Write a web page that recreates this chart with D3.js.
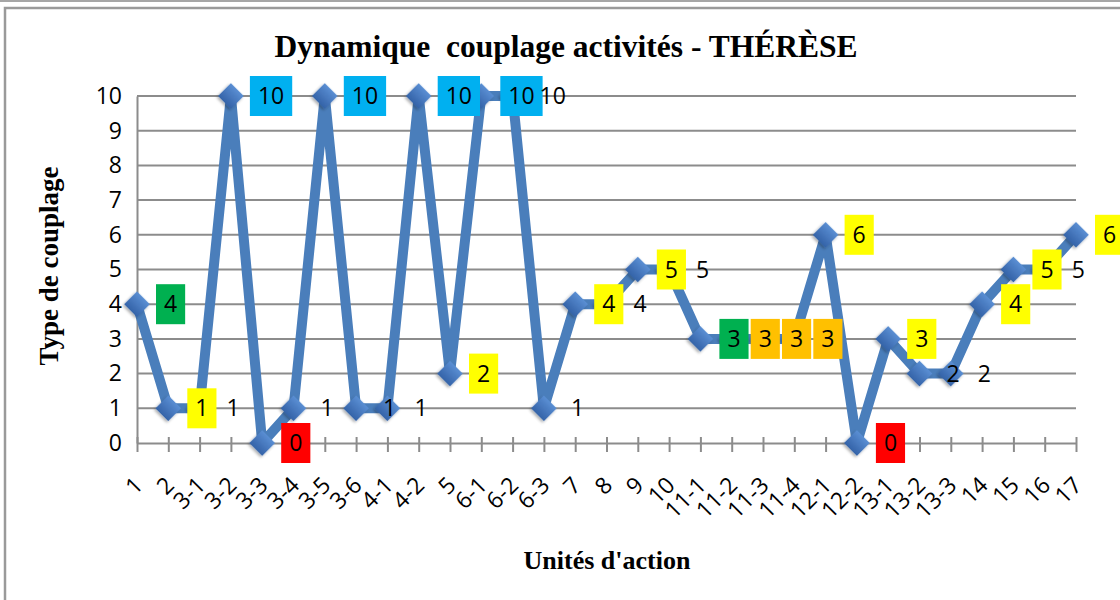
<!DOCTYPE html>
<html><head><meta charset="utf-8">
<script src="https://cdn.jsdelivr.net/npm/d3@7"></script>
<style>
html,body{margin:0;padding:0;background:#fff;}
svg{display:block;}
text{white-space:pre;}
</style></head>
<body>
<svg id="c" width="1120" height="600"></svg>
<script>
const categories = ["1","2","3-1","3-2","3-3","3-4","3-5","3-6","4-1","4-2","5","6-1","6-2","6-3","7","8","9","10","11-1","11-2","11-3","11-4","12-1","12-2","13-1","13-2","13-3","14","15","16","17"];
const values = [4,1,1,10,0,1,10,1,1,10,2,10,10,1,4,4,5,5,3,3,3,3,6,0,3,2,2,4,5,5,6];
const labelHighlight = ["green","yellow",null,"blue","red",null,"blue",null,null,"blue","yellow","blue",null,null,"yellow",null,"yellow",null,"green","orange","orange","orange","yellow","red","yellow",null,null,"yellow","yellow",null,"yellow"];
const yTicks = [0,1,2,3,4,5,6,7,8,9,10];
const titleText = "Dynamique  couplage activités - THÉRÈSE";
const xTitle = "Unités d'action";
const yTitle = "Type de couplage";

const highlightColors = {green:"#00B050", yellow:"#FFFF00", blue:"#00B0F0", red:"#FF0000", orange:"#FFC000"};
const sans = "'Open Sans', 'Noto Sans', sans-serif";
const serif = "'Liberation Serif', 'Times New Roman', serif";

const svg = d3.select("#c");
const W = 1120, H = 600;
const x = d3.scalePoint().domain(categories).range([137, 1076]);
const y = d3.scaleLinear().domain([0, 10]).range([443, 96]);

// frame
svg.append("line").attr("x1",0).attr("x2",W).attr("y1",1).attr("y2",1).attr("stroke","#a6a6a6").attr("stroke-width",2);
svg.append("rect").attr("x",5).attr("y",8).attr("width",W+20).attr("height",H+20)
  .attr("fill","none").attr("stroke","#9a9a9a").attr("stroke-width",2.5);

// defs
const defs = svg.append("defs");
const grad = defs.append("linearGradient").attr("id","mk").attr("x1","0").attr("y1","0").attr("x2","0").attr("y2","1");
grad.append("stop").attr("offset","0%").attr("stop-color","#5A8ED3");
grad.append("stop").attr("offset","100%").attr("stop-color","#3463A8");
const sh = defs.append("filter").attr("id","sh").attr("x","-50%").attr("y","-50%").attr("width","200%").attr("height","200%");
sh.append("feDropShadow").attr("dx",0).attr("dy",2).attr("stdDeviation",1.5).attr("flood-color","#000").attr("flood-opacity",0.35);

// gridlines
svg.append("g").selectAll("line").data(yTicks.filter(d=>d>0)).join("line")
  .attr("x1",137).attr("x2",1076).attr("y1",d=>y(d)).attr("y2",d=>y(d))
  .attr("stroke","#8c8c8c").attr("stroke-width",2);

// y axis
const yAxis = svg.append("g").attr("transform","translate(137,0)")
  .call(d3.axisLeft(y).tickValues(yTicks).tickSize(0).tickPadding(15).tickFormat(d3.format("d")));
yAxis.select(".domain").attr("stroke","#8c8c8c").attr("stroke-width",2);
yAxis.selectAll("text").attr("font-family",sans).attr("font-size",23).attr("fill","#000");

// x axis
const xAxis = svg.append("g").attr("transform","translate(0,443)")
  .call(d3.axisBottom(x).tickSizeInner(9).tickSizeOuter(0));
xAxis.select(".domain").attr("stroke","#8c8c8c").attr("stroke-width",2);
xAxis.selectAll(".tick line").attr("stroke","#8c8c8c").attr("stroke-width",2).attr("y1",-6);
xAxis.selectAll(".tick text")
  .attr("font-family",sans).attr("font-size",23).attr("fill","#000")
  .attr("text-anchor","end").attr("dy","0.35em").attr("y",0)
  .attr("transform","translate(1,38) rotate(-45)");

// line
const data = categories.map((c,i)=>({c, v:values[i], h:labelHighlight[i]}));
svg.append("path").datum(data)
  .attr("d", d3.line().x(d=>x(d.c)).y(d=>y(d.v)))
  .attr("fill","none").attr("stroke","#4A7EBB").attr("stroke-width",10).attr("stroke-linejoin","round");

// markers
svg.append("g").selectAll("path").data(data).join("path")
  .attr("d", d3.symbol(d3.symbolSquare, 330))
  .attr("transform", d=>`translate(${x(d.c)},${y(d.v)}) rotate(45)`)
  .attr("fill","url(#mk)").attr("filter","url(#sh)");

// data labels
const lg = svg.append("g");
data.forEach(d=>{
  const px = x(d.c), py = y(d.v);
  const g = lg.append("g");
  const rect = g.append("rect");
  const t = g.append("text").text(d.v)
    .attr("font-family",sans).attr("font-size",23).attr("fill","#000")
    .attr("x", px+19+8).attr("y", py).attr("dy","0.35em");
  const tw = t.node().getComputedTextLength();
  if (d.h) {
    rect.attr("x",px+19).attr("y",py-20).attr("width",tw+16).attr("height",40).attr("fill",highlightColors[d.h]);
  } else rect.remove();
});

// titles
svg.append("text").text(titleText).attr("x",566).attr("y",57).attr("text-anchor","middle")
  .attr("font-family",serif).attr("font-weight","bold").attr("font-size",31.5).attr("fill","#000");
svg.append("text").text(xTitle).attr("x",607).attr("y",569).attr("text-anchor","middle")
  .attr("font-family",serif).attr("font-weight","bold").attr("font-size",26).attr("fill","#000");
svg.append("text").text(yTitle).attr("transform","translate(58,266) rotate(-90)").attr("text-anchor","middle")
  .attr("font-family",serif).attr("font-weight","bold").attr("font-size",27).attr("fill","#000");
</script>
</body></html>
